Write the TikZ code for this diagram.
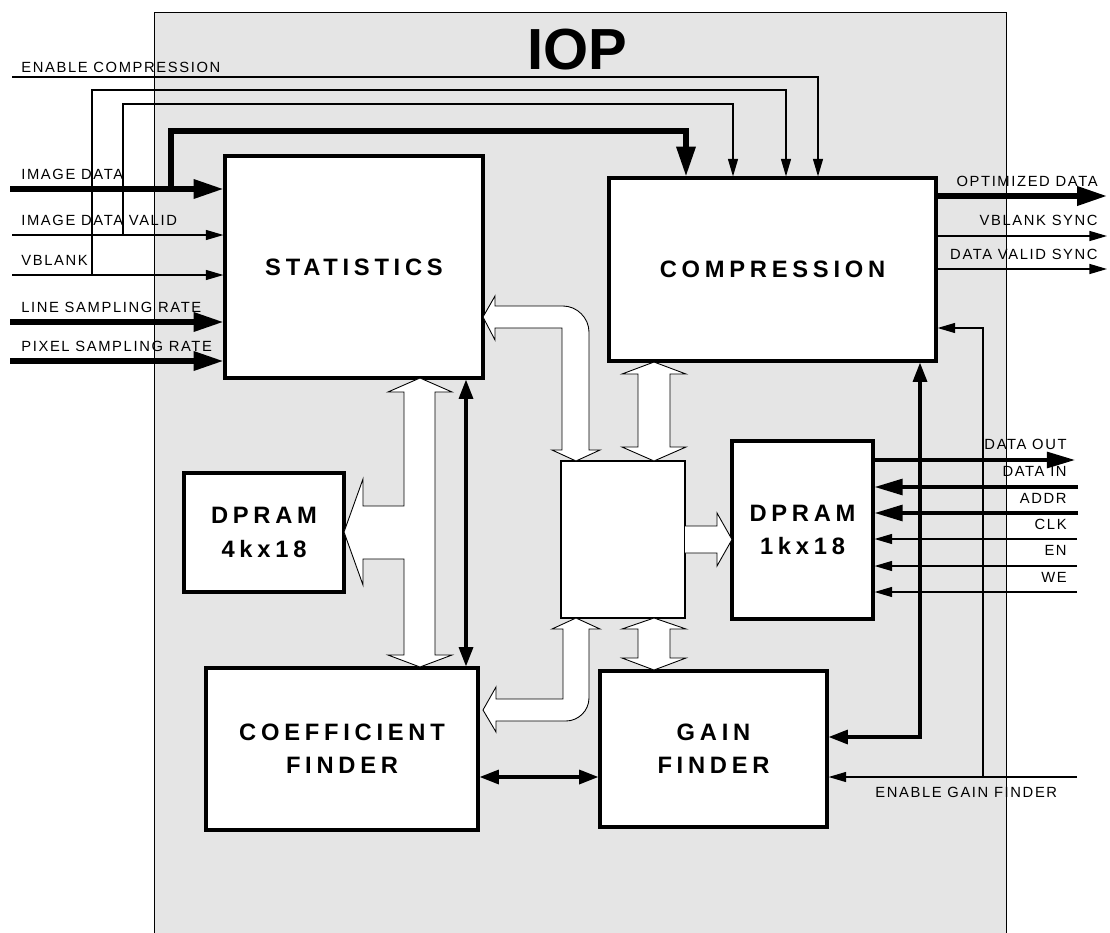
\documentclass[tikz,border=0pt]{standalone}
\usepackage{fontspec}
\setmainfont{Liberation Sans}
\newfontfamily\sigfont{Liberation Sans}[LetterSpace=11]
\newfontfamily\blkfont{Liberation Sans}[LetterSpace=20]
\usetikzlibrary{arrows.meta}
\definecolor{iopgray}{HTML}{E5E5E5}
\newdimen\pxl
\pxl=0.02cm

\begin{document}
\begin{tikzpicture}[
    x=0.02cm, y=-0.02cm,
    frame/.style={draw, line width=0.7pt, fill=iopgray, anchor=north west},
    block/.style={draw, line width=1.8pt, fill=white, align=center, font=\blkfont\bfseries\fontsize{13.5}{19}\selectfont},
    sig/.style={line width=0.7pt, -{Triangle[length=10pt, width=5.7pt]}},
    bus/.style={line width=3pt, -{Triangle[length=17pt, width=10.5pt]}},
    membus/.style={line width=2pt, -{Triangle[length=16pt, width=9pt]}},
    link/.style={line width=1.8pt, {Triangle[length=11pt, width=8pt]}-{Triangle[length=11pt, width=8pt]}},
    hollow/.style={draw, fill=white, line width=0.5pt, line join=miter},
    lbl/.style={font=\sigfont\fontsize{8.4}{10}\selectfont, inner sep=0pt}
]
    \useasboundingbox (0,0) rectangle (1110,933);

    \node[frame, minimum width=852\pxl, minimum height=940\pxl] (iop) at (154,12) {};
    \node[font=\bfseries\fontsize{33}{36}\selectfont, anchor=base, inner sep=0pt] (iopTitle) at (577,70) {IOP};

    \node[block, minimum width=258\pxl, minimum height=222\pxl] (stat) at (354,267) {STATISTICS};
    \node[block, minimum width=327\pxl, minimum height=183\pxl] (comp) at (772.5,269.5) {COMPRESSION};
    \node[block, minimum width=160\pxl, minimum height=119\pxl] (dpramA) at (264,532.5) {DPRAM\\4kx18};
    \node[block, minimum width=141\pxl, minimum height=178\pxl] (dpramB) at (802.5,530) {DPRAM\\1kx18};
    \node[draw, fill=white, line width=0.6pt, minimum width=124\pxl, minimum height=157\pxl] (mux) at (623,539.5) {};
    \node[block, minimum width=272\pxl, minimum height=162\pxl] (coef) at (342,749) {COEFFICIENT\\FINDER};
    \node[block, minimum width=227\pxl, minimum height=156\pxl] (gain) at (713.5,749) {GAIN\\FINDER};

    \draw[hollow] (420,378) -- (452,392) -- (435,392) -- (435,655) -- (452,655) -- (420,667)
        -- (388,655) -- (404,655) -- (404,559) -- (363,559) -- (363,585) -- (344,532)
        -- (363,479) -- (363,506) -- (404,506) -- (404,392) -- (388,392) -- cycle;
    \draw[hollow] (483,317) -- (495,296) -- (495,306) -- (563,306)
        .. controls (577,306) and (589,318) .. (589,332) -- (589,450) -- (600,450) -- (576,461)
        -- (552,450) -- (562,450) -- (562,328) -- (495,328) -- (495,340) -- cycle;
    \draw[hollow] (654,362) -- (686,374) -- (670,374) -- (670,447) -- (686,447) -- (654,461)
        -- (622,447) -- (638,447) -- (638,374) -- (622,374) -- cycle;
    \draw[hollow] (685,526) -- (717,526) -- (717,513) -- (732,539.5) -- (717,566) -- (717,553) -- (685,553);
    \draw[hollow] (654,618) -- (686,629) -- (670,629) -- (670,658) -- (686,658) -- (654,670)
        -- (622,658) -- (638,658) -- (638,629) -- (622,629) -- cycle;
    \draw[hollow] (576,618) -- (600,629) -- (589,629) -- (589,698)
        .. controls (589,711) and (578,721) .. (566,721) -- (496,721) -- (496,732) -- (483,710)
        -- (496,687) -- (496,699) -- (563,699) -- (563,629) -- (552,629) -- cycle;

    \coordinate (encIn) at (12,77);
    \coordinate (imgIn) at (10,189);
    \coordinate (validIn) at (12,235);
    \coordinate (vblIn) at (12,275);
    \coordinate (lineIn) at (10,322);
    \coordinate (pixIn) at (10,361);
    \coordinate (imgTap) at (171,189);
    \coordinate (validTap) at (123,235);
    \coordinate (vblTap) at (92,275);

    \draw[bus] (imgIn) -- (imgIn -| stat.west);
    \draw[sig] (validIn) -- (validIn -| stat.west);
    \draw[sig] (vblIn) -- (vblIn -| stat.west);
    \draw[bus] (lineIn) -- (lineIn -| stat.west);
    \draw[bus] (pixIn) -- (pixIn -| stat.west);
    \draw[bus] (imgTap) |- (686,131) -- (686,0 |- comp.north);
    \draw[sig] (validTap) |- (733,104) -- (733,0 |- comp.north);
    \draw[sig] (vblTap) |- (786,90) -- (786,0 |- comp.north);
    \draw[sig] (encIn) -| (818,0 |- comp.north);

    \coordinate (optOut) at (1107,196);
    \coordinate (vsyncOut) at (1107,236);
    \coordinate (dvsyncOut) at (1107,269);
    \draw[bus] (optOut -| comp.east) -- (optOut);
    \draw[sig] (vsyncOut -| comp.east) -- (vsyncOut);
    \draw[sig] (dvsyncOut -| comp.east) -- (dvsyncOut);

    \coordinate (doutOut) at (1075,460);
    \coordinate (dinIn) at (1078,487);
    \coordinate (addrIn) at (1078,513);
    \coordinate (clkIn) at (1077,539);
    \coordinate (enIn) at (1077,566);
    \coordinate (weIn) at (1077,592);
    \draw[membus] (doutOut -| dpramB.east) -- (doutOut);
    \draw[membus] (dinIn) -- (dinIn -| dpramB.east);
    \draw[membus] (addrIn) -- (addrIn -| dpramB.east);
    \draw[sig] (clkIn) -- (clkIn -| dpramB.east);
    \draw[sig] (enIn) -- (enIn -| dpramB.east);
    \draw[sig] (weIn) -- (weIn -| dpramB.east);

    \coordinate (egfIn) at (1077,777);
    \coordinate (egfTap) at (983,777);
    \draw[sig] (egfIn) -- (egfIn -| gain.east);
    \draw[sig] (egfTap) |- (comp.east |- 0,328);
    \draw[link] (comp.south -| 920,0) |- (gain.east |- 0,737);
    \draw[link] (stat.south -| 466,0) -- (coef.north -| 466,0);
    \draw[link] (coef.east |- 0,777) -- (gain.west |- 0,777);

    \node[lbl, anchor=base west] (encLbl) at (21,72) {ENABLE COMPRESSION};
    \node[lbl, anchor=base west] (imgLbl) at (21,179) {IMAGE DATA};
    \node[lbl, anchor=base west] (validLbl) at (21,225) {IMAGE DATA VALID};
    \node[lbl, anchor=base west] (vblLbl) at (21,265) {VBLANK};
    \node[lbl, anchor=base west] (lineLbl) at (21,312) {LINE SAMPLING RATE};
    \node[lbl, anchor=base west] (pixLbl) at (21,351) {PIXEL SAMPLING RATE};
    \node[lbl, anchor=base east] (optLbl) at (1098,186) {OPTIMIZED DATA};
    \node[lbl, anchor=base east] (vsyncLbl) at (1098,225) {VBLANK SYNC};
    \node[lbl, anchor=base east] (dvsyncLbl) at (1098,259) {DATA VALID SYNC};
    \node[lbl, anchor=base east] (doutLbl) at (1067,449) {DATA OUT};
    \node[lbl, anchor=base east] (dinLbl) at (1067,476) {DATA IN};
    \node[lbl, anchor=base east] (addrLbl) at (1067,503) {ADDR};
    \node[lbl, anchor=base east] (clkLbl) at (1067,529) {CLK};
    \node[lbl, anchor=base east] (enLbl) at (1067,555) {EN};
    \node[lbl, anchor=base east] (weLbl) at (1067,582) {WE};
    \node[lbl, anchor=base west] (egfLbl) at (875,797) {ENABLE GAIN FINDER};
\end{tikzpicture}
\end{document}
